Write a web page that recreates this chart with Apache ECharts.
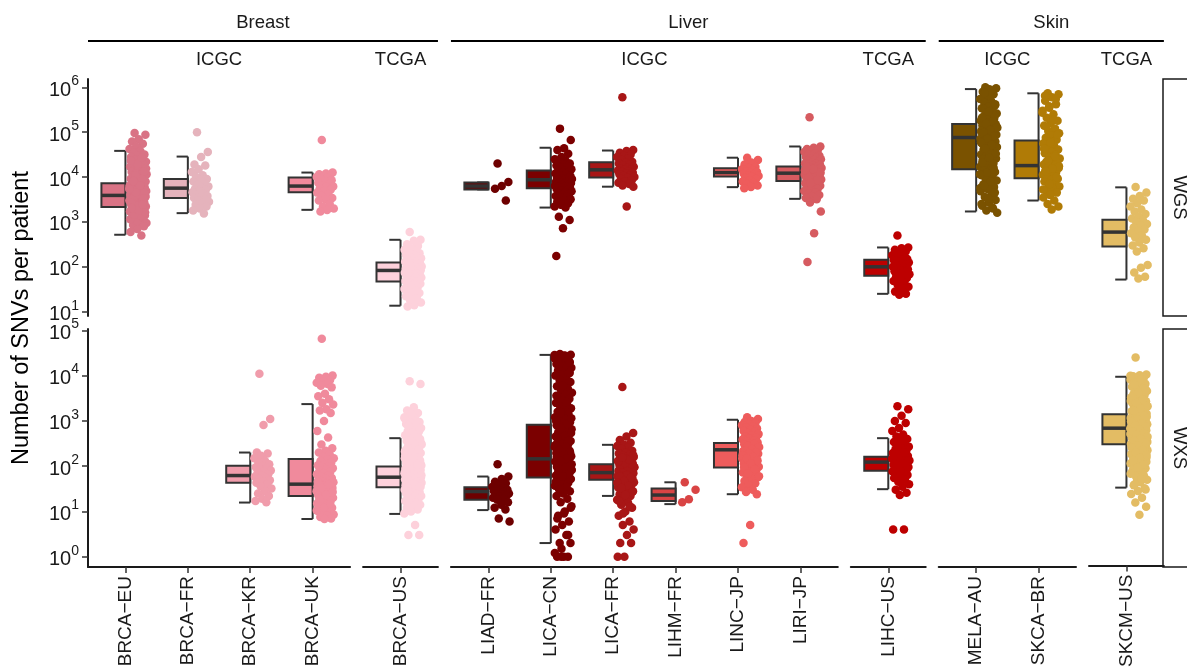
<!DOCTYPE html>
<html>
<head>
<meta charset="utf-8">
<script src="https://cdn.jsdelivr.net/npm/echarts@6/dist/echarts.min.js"></script>
<style>
  html, body { margin: 0; padding: 0; background: #fff; }
  #chart { width: 1187px; height: 670px; }
</style>
</head>
<body>
<div id="chart"></div>
<script>
// categories by panel
var breastICGC = ['BRCA−EU', 'BRCA−FR', 'BRCA−KR', 'BRCA−UK'];
var breastTCGA = ['BRCA−US'];
var liverICGC = ['LIAD−FR', 'LICA−CN', 'LICA−FR', 'LIHM−FR', 'LINC−JP', 'LIRI−JP'];
var liverTCGA = ['LIHC−US'];
var skinICGC = ['MELA−AU', 'SKCA−BR'];
var skinTCGA = ['SKCM−US'];

var rowNames = ['WGS', 'WXS'];

// box stats [min, q1, median, q3, max] in category order (15), null = no data
var wgsBoxStats = [
  [518, 2140, 3900, 7300, 38300],
  [1570, 3400, 5660, 9000, 28600],
  null,
  [1860, 4600, 6300, 9760, 12600],
  [13.6, 47, 83, 125, 400],
  [5300, 5300, 6300, 7600, 7600],
  [2090, 5660, 8700, 14000, 45000],
  [6100, 9760, 14500, 21500, 39000],
  null,
  [5960, 10300, 12600, 15800, 27000],
  [3270, 8200, 12200, 17100, 48000],
  [25, 63, 100, 144, 270],
  [1710, 15000, 76000, 153000, 913000],
  [3000, 9440, 18000, 65000, 735000],
  [52, 285, 594, 1120, 5900]
];
var wxsBoxStats = [
  null,
  null,
  [15.7, 43, 62, 102, 200],
  [6.8, 22, 40, 144, 2350],
  [8.8, 34, 57, 98, 415],
  [10.7, 18, 27.5, 34, 59],
  [2, 56, 145, 820, 28700],
  [22, 50, 72, 110, 296],
  [14.5, 17, 23, 32, 44],
  [24, 93, 230, 324, 1060],
  null,
  [31, 79, 123, 162, 415],
  null,
  null,
  [32, 295, 670, 1365, 9300]
];

// per-patient SNV counts, WGS
var wgs_BRCA_EU = [96000, 88000, 70000, 62000, 55000, 48000, 42000, 38000, 35000, 32000, 30000, 28000, 26000, 24000, 22000, 21000, 20000, 19000, 18000, 17000, 16000, 15000, 14500, 14000, 13000, 12500, 12000, 11500, 11000, 10500, 10000, 9600, 9200, 8800, 8400, 8000, 7700, 7400, 7100, 6800, 6500, 6300, 6100, 5900, 5700, 5500, 5300, 5100, 4900, 4700, 4500, 4300, 4150, 4000, 3850, 3700, 3550, 3400, 3300, 3200, 3100, 3000, 2900, 2800, 2700, 2600, 2500, 2400, 2300, 2200, 2100, 2000, 1900, 1800, 1700, 1600, 1500, 1400, 1300, 1200, 1100, 1000, 950, 900, 850, 800, 700, 600, 500, 3600, 3800, 4200, 2650, 2950, 5000, 6000, 7000, 3500, 4400, 2350, 2750, 9000, 11000, 15500, 1250, 1750, 3350, 1050, 1150, 1350, 1450, 1650, 1850, 2050, 2450, 4600, 5400, 6600, 8200, 13500, 19500, 23000, 27000];
var wgs_BRCA_FR = [100000, 36000, 28000, 19000, 18000, 15000, 13000, 11000, 10000, 9000, 8500, 8000, 7200, 6800, 6200, 5800, 5500, 5200, 4900, 4600, 4300, 4000, 3800, 3600, 3400, 3200, 3000, 2800, 2600, 2400, 2200, 2000, 1800, 1550];
var wgs_BRCA_UK = [67000, 12600, 12000, 11500, 11000, 10500, 10000, 9500, 9000, 8500, 8000, 7500, 7000, 6500, 6200, 6000, 5600, 5200, 4800, 4500, 4200, 3800, 3400, 3200, 3000, 2500, 2200, 2000, 1850, 1700];
var wgs_BRCA_US = [600, 400, 380, 320, 290, 260, 240, 220, 210, 200, 190, 180, 170, 160, 155, 150, 145, 140, 135, 130, 125, 120, 118, 115, 112, 110, 106, 102, 100, 97, 95, 92, 90, 88, 86, 84, 82, 80, 78, 76, 74, 72, 70, 68, 66, 64, 62, 60, 58, 56, 54, 52, 50, 48, 46, 44, 42, 40, 38, 36, 34, 32, 30, 28, 26, 24, 22, 20, 18, 16, 14, 13];
var wgs_LIAD_FR = [20000, 7800, 6300, 5500, 3000];
var wgs_LICA_CN = [120000, 67000, 44000, 40000, 33000, 28000, 25000, 23000, 21000, 20000, 19000, 18000, 17000, 16000, 15000, 14000, 13500, 13000, 12500, 12000, 11500, 11000, 10500, 10000, 9800, 9500, 9200, 9000, 8800, 8600, 8400, 8200, 8000, 7800, 7600, 7400, 7200, 7000, 6800, 6600, 6400, 6200, 6000, 5800, 5600, 5400, 5200, 5000, 4800, 4600, 4400, 4200, 4000, 3800, 3600, 3400, 3200, 3000, 2800, 2600, 2400, 2200, 2100, 1310, 1100, 720, 174];
var wgs_LICA_FR = [600000, 40000, 38000, 35000, 32000, 30000, 28000, 26000, 24000, 22000, 21000, 20000, 19000, 18000, 17000, 16000, 15500, 15000, 14500, 14000, 13500, 13000, 12500, 12000, 11500, 11000, 10500, 10000, 9500, 9000, 8500, 8000, 7500, 7000, 6500, 6100, 2200];
var wgs_LINC_JP = [27000, 24000, 21000, 19000, 17000, 16000, 15000, 14000, 13500, 13000, 12500, 12000, 11500, 11000, 10500, 10000, 9500, 9000, 8500, 8000, 7500, 7000, 6500, 6000, 5600];
var wgs_LIRI_JP = [214000, 48000, 45000, 42000, 40000, 38000, 36000, 34000, 32000, 30000, 29000, 28000, 27000, 26000, 25000, 24000, 23000, 22000, 21000, 20000, 19500, 19000, 18500, 18000, 17500, 17000, 16500, 16000, 15500, 15000, 14500, 14000, 13500, 13000, 12800, 12500, 12200, 12000, 11800, 11500, 11200, 11000, 10700, 10400, 10000, 9700, 9400, 9100, 8800, 8500, 8200, 7900, 7600, 7300, 7000, 6700, 6400, 6100, 5800, 5500, 5200, 4900, 4600, 4300, 4000, 3700, 3400, 3200, 2700, 1700, 560, 128, 13200, 11300, 14200, 10200, 9900, 12400, 15200, 16800, 8600, 7400];
var wgs_LIHC_US = [500, 270, 260, 240, 220, 200, 180, 170, 160, 150, 145, 140, 135, 130, 125, 120, 115, 110, 105, 100, 96, 92, 88, 84, 80, 76, 72, 68, 64, 60, 56, 52, 48, 44, 40, 36, 32, 28, 25, 24];
var wgs_MELA_AU = [1000000, 950000, 900000, 800000, 700000, 600000, 550000, 500000, 450000, 400000, 370000, 340000, 310000, 280000, 260000, 240000, 220000, 200000, 190000, 180000, 170000, 160000, 150000, 145000, 140000, 135000, 130000, 125000, 120000, 115000, 110000, 105000, 100000, 96000, 92000, 88000, 84000, 80000, 77000, 74000, 71000, 68000, 65000, 62000, 59000, 56000, 53000, 50000, 47000, 44000, 41000, 38000, 35000, 32000, 30000, 28000, 26000, 24000, 22000, 20000, 18500, 17000, 15500, 14000, 13000, 12000, 11000, 10000, 9200, 8400, 7600, 6800, 6000, 5400, 4800, 4200, 3600, 3100, 2700, 2300, 2000, 1800, 1600, 650000, 330000, 230000, 165000, 108000, 86000, 66000, 46000, 36000, 25000, 16000, 9600, 5700, 850000, 750000, 420000, 290000, 210000, 175000, 155000, 128000, 112000, 98000, 82000, 72000, 60000, 52000, 43000, 33000, 27000, 21000, 14500, 12500, 11500, 8000, 6400, 4500, 3300, 2500, 2100];
var wgs_SKCA_BR = [740000, 700000, 600000, 500000, 420000, 350000, 300000, 250000, 210000, 180000, 160000, 140000, 120000, 105000, 95000, 85000, 75000, 68000, 62000, 56000, 50000, 45000, 41000, 37000, 34000, 31000, 28000, 26000, 24000, 22000, 21000, 20000, 19000, 18000, 17000, 16000, 15000, 14000, 13000, 12000, 11200, 10500, 9800, 9200, 8600, 8000, 7400, 6800, 6200, 5600, 5000, 4500, 4000, 3500, 3000, 2500, 2200, 1900, 650000, 550000, 380000, 270000, 190000, 130000, 88000, 59000, 43000, 29000, 23000, 17500, 15500, 13500, 10000, 7000, 5300];
var wgs_SKCM_US = [6000, 4500, 3800, 3300, 3000, 2600, 2200, 1900, 1700, 1500, 1300, 1200, 1100, 1000, 900, 820, 750, 680, 620, 560, 500, 450, 400, 350, 300, 260, 220, 110, 95, 75, 60, 55];

// per-patient SNV counts, WXS
var wxs_BRCA_KR = [11000, 1100, 810, 200, 190, 170, 150, 130, 120, 110, 100, 95, 90, 85, 80, 75, 70, 66, 62, 58, 55, 52, 49, 46, 43, 40, 36, 32, 28, 25, 22, 19, 17, 16];
var wxs_BRCA_UK = [65000, 10000, 9500, 9000, 8000, 7500, 7000, 6500, 6000, 5500, 4000, 3500, 3000, 2500, 2300, 1800, 1700, 1500, 1000, 600, 430, 300, 250, 220, 200, 180, 160, 150, 140, 130, 120, 110, 105, 100, 95, 90, 85, 80, 75, 70, 66, 62, 58, 55, 52, 50, 48, 46, 44, 42, 40, 38, 37, 36, 35, 34, 33, 32, 31, 30, 29, 28, 27, 26, 25, 24, 23, 22, 21, 20, 19, 18, 17, 16, 15, 14, 13, 12, 11, 10, 9.5, 9, 8.5, 8, 7.5, 7, 6.8, 45, 39, 33, 27, 23, 19, 15, 12, 10.5];
var wxs_BRCA_US = [7500, 6500, 2000, 1700, 1500, 1300, 1200, 1100, 1000, 950, 900, 850, 800, 750, 700, 650, 600, 560, 520, 480, 450, 420, 400, 380, 360, 340, 320, 300, 285, 270, 255, 240, 228, 216, 205, 195, 185, 175, 166, 158, 150, 143, 136, 130, 124, 118, 113, 108, 104, 100, 97, 94, 91, 88, 85, 82, 80, 78, 76, 74, 72, 70, 68, 66, 64, 62, 60, 58, 57, 56, 55, 54, 53, 52, 51, 50, 49, 48, 47, 46, 45, 44, 43, 42, 41, 40, 39, 38, 37, 36, 35, 34, 33, 32, 31, 30, 29, 28, 27, 26, 25, 24, 23, 22, 21, 20, 19, 18, 17, 16, 15, 14, 13, 12, 11, 10, 9, 5, 3, 3, 65, 75, 85, 95, 110, 120, 140, 160, 180, 210, 250, 290, 350, 45, 55, 59, 61, 63, 67, 69, 71, 73, 77, 79, 81, 83, 87, 89, 92, 1400, 1150, 900, 780, 620, 540, 470, 430, 370, 330, 310, 260, 230, 200, 170, 155, 146, 133, 127, 115, 106];
var wxs_LIAD_FR = [110, 59, 52, 45, 42, 38, 35, 33, 31, 30, 29, 28, 27, 26, 25, 24, 23, 22, 21, 20, 19, 18, 16, 14, 12, 11, 7, 6];
var wxs_LICA_CN = [30000, 29000, 28000, 27000, 26000, 25000, 24000, 22000, 21000, 20000, 19000, 18000, 17000, 16000, 15000, 14000, 13000, 12000, 11000, 10000, 9000, 8000, 7200, 6500, 5800, 5200, 4700, 4200, 3800, 3400, 3100, 2800, 2500, 2300, 2100, 1900, 1750, 1600, 1450, 1300, 1200, 1100, 1000, 930, 860, 800, 750, 700, 650, 600, 560, 520, 480, 450, 420, 390, 360, 340, 320, 300, 280, 265, 250, 235, 220, 208, 196, 185, 175, 165, 156, 148, 140, 133, 126, 120, 114, 108, 102, 97, 92, 87, 82, 78, 74, 70, 66, 62, 58, 55, 52, 49, 46, 43, 40, 37, 34, 31, 28, 25, 22, 19, 16, 13, 10, 8, 6, 5, 4, 3, 2, 2, 1, 1, 1, 1, 28500, 27500, 23000, 19500, 15500, 1000, 850, 700, 540, 470, 410, 370, 310, 290, 270, 230, 200, 180, 160, 150, 130, 110, 90, 75, 68, 60, 45, 35, 30, 12, 9, 7, 3, 1.5, 1.2, 25500, 17500, 11500, 6000, 3600, 2600, 1550, 1150];
var wxs_LICA_FR = [5600, 540, 450, 380, 330, 300, 280, 260, 240, 220, 200, 190, 180, 170, 160, 150, 145, 140, 135, 130, 125, 120, 115, 110, 106, 102, 98, 94, 90, 87, 84, 81, 78, 75, 72, 70, 68, 66, 64, 62, 60, 58, 56, 54, 52, 50, 48, 46, 44, 42, 40, 38, 36, 34, 32, 30, 28, 26, 24, 22, 20, 18, 16, 14, 12, 10, 8, 6, 5, 4, 3, 2, 2, 1, 1, 71, 73, 76, 79, 83, 88, 92, 96, 100, 108, 112, 118, 128, 138, 155, 175, 63, 59, 55, 47, 43, 37, 33, 27, 23, 17, 13, 9];
var wxs_LIHM_FR = [44, 30, 18.6, 16];
var wxs_LINC_JP = [1200, 1100, 1000, 950, 900, 850, 800, 760, 720, 680, 640, 600, 570, 540, 510, 480, 455, 430, 410, 390, 370, 350, 335, 320, 305, 290, 278, 266, 255, 245, 235, 225, 215, 205, 196, 188, 180, 172, 164, 156, 148, 140, 133, 126, 120, 114, 108, 102, 97, 92, 87, 82, 77, 72, 67, 62, 57, 52, 47, 42, 38, 34, 30, 27, 24, 5, 2, 310, 280, 260, 240, 220, 200, 190, 175, 160, 150, 135, 115, 95, 85, 70, 60];
var wxs_LIHC_US = [2100, 1800, 1300, 1000, 900, 700, 600, 500, 450, 400, 370, 340, 310, 290, 270, 250, 235, 220, 205, 195, 185, 175, 168, 160, 153, 146, 140, 134, 128, 123, 118, 113, 108, 104, 100, 96, 92, 88, 84, 80, 76, 72, 68, 64, 60, 55, 50, 45, 40, 35, 30, 26, 23, 4, 4, 150, 130, 110, 90, 125, 135, 145, 115, 98, 86, 78, 170, 200, 240];
var wxs_SKCM_US = [25000, 10500, 10000, 9500, 9000, 8500, 8000, 7500, 7000, 6500, 6000, 5600, 5200, 4800, 4500, 4200, 3900, 3600, 3400, 3200, 3000, 2800, 2650, 2500, 2380, 2260, 2150, 2050, 1950, 1850, 1760, 1680, 1600, 1530, 1460, 1400, 1340, 1280, 1230, 1180, 1130, 1080, 1040, 1000, 960, 920, 880, 850, 820, 790, 760, 730, 700, 675, 650, 625, 600, 578, 556, 535, 515, 495, 476, 458, 440, 423, 407, 391, 376, 362, 348, 335, 322, 310, 298, 286, 275, 264, 254, 244, 234, 225, 216, 207, 198, 190, 182, 174, 166, 158, 150, 142, 134, 126, 118, 110, 102, 94, 86, 78, 70, 62, 55, 48, 42, 36, 31, 27, 23, 19, 15, 12, 8, 690, 710, 640, 660, 590, 610, 560, 540, 800, 900, 1100, 1200, 1500, 1700, 2000, 2300, 2700, 3100, 3700, 4400, 500, 450, 400, 360, 330, 300, 270, 240, 210, 180, 160, 140, 120, 100, 80, 60, 45, 9800, 8200, 6200, 5000, 4000, 3300, 2900, 2450, 2100, 1800, 1650, 1250, 1060, 940, 860, 770, 720, 630, 570, 520, 480, 430, 390, 350, 315, 280, 250, 220, 195, 170, 145, 130, 105, 90, 65, 50, 38, 29];

var wgsPoints = [wgs_BRCA_EU, wgs_BRCA_FR, null, wgs_BRCA_UK, wgs_BRCA_US, wgs_LIAD_FR, wgs_LICA_CN, wgs_LICA_FR, null, wgs_LINC_JP, wgs_LIRI_JP, wgs_LIHC_US, wgs_MELA_AU, wgs_SKCA_BR, wgs_SKCM_US];
var wxsPoints = [null, null, wxs_BRCA_KR, wxs_BRCA_UK, wxs_BRCA_US, wxs_LIAD_FR, wxs_LICA_CN, wxs_LICA_FR, wxs_LIHM_FR, wxs_LINC_JP, null, wxs_LIHC_US, null, null, wxs_SKCM_US];

// colours in category order
var palette = ['#d97385', '#e5b3bc', '#f09cab', '#f08a9c', '#fdd1db',
  '#6e0000', '#7b0000', '#a81616', '#d94444', '#ee5c5c', '#d65b60', '#bd0000',
  '#7a5200', '#b07b06', '#e3bc64'];

var panels = [
  { cats: breastICGC, cancer: 'Breast', src: 'ICGC' },
  { cats: breastTCGA, cancer: 'Breast', src: 'TCGA' },
  { cats: liverICGC, cancer: 'Liver', src: 'ICGC' },
  { cats: liverTCGA, cancer: 'Liver', src: 'TCGA' },
  { cats: skinICGC, cancer: 'Skin', src: 'ICGC' },
  { cats: skinTCGA, cancer: 'Skin', src: 'TCGA' }
];

var FONT = '"Liberation Sans", Arial, Helvetica, sans-serif';
var UNIT = 62.4, GAP = 13, LEFT0 = 88;
var rows = [
  { top: 79, height: 237, min: Math.pow(10, 0.904), max: Math.pow(10, 6.185), ticks: [10, 100, 1000, 1e4, 1e5, 1e6], box: wgsBoxStats, pts: wgsPoints },
  { top: 329, height: 238, min: Math.pow(10, -0.228), max: Math.pow(10, 5.03), ticks: [1, 10, 100, 1000, 1e4, 1e5], box: wxsBoxStats, pts: wxsPoints }
];

// horizontal jitter, right of the tick
function jit(k) {
  return 0.06 + 0.28 * ((k * 0.6180339887 + 0.31) % 1);
}

var grids = [], xAxes = [], yAxes = [], series = [], graphics = [];
var lefts = [];
var x = LEFT0;
panels.forEach(function (p) {
  var w = (p.cats.length + 0.2) * UNIT;
  lefts.push([x, w]);
  x += w + GAP;
});

var catOffset = [];
var off = 0;
panels.forEach(function (p) { catOffset.push(off); off += p.cats.length; });

rows.forEach(function (row, r) {
  panels.forEach(function (p, pi) {
    var gi = grids.length;
    var n = p.cats.length;
    var ticksX = p.cats.map(function (c, i) { return i; });
    grids.push({ left: lefts[pi][0], width: lefts[pi][1], top: row.top, height: row.height });
    xAxes.push({
      type: 'value', gridIndex: gi, min: -0.6, max: n - 0.4,
      show: r === 1,
      splitLine: { show: false },
      axisLine: { show: true, onZero: false, lineStyle: { color: '#1a1a1a', width: 2 } },
      axisTick: { show: true, customValues: ticksX, length: 6, lineStyle: { color: '#333', width: 1.5 } },
      axisLabel: {
        customValues: ticksX, rotate: 90, margin: 9,
        fontFamily: FONT, fontSize: 19, color: '#1a1a1a',
        formatter: function (v) { return p.cats[Math.round(v)] || ''; }
      }
    });
    yAxes.push({
      type: 'log', logBase: 10, gridIndex: gi, min: row.min, max: row.max,
      show: pi === 0,
      splitLine: { show: false },
      axisLine: { show: true, onZero: false, lineStyle: { color: '#1a1a1a', width: 2 } },
      axisTick: { show: true, customValues: row.ticks, length: 6, lineStyle: { color: '#333', width: 1.5 } },
      axisLabel: {
        customValues: row.ticks, margin: 9, color: '#1a1a1a',
        formatter: function (v) {
          return '{b|10}{s|' + Math.round(Math.log10(v)) + '}';
        },
        rich: {
          b: { fontFamily: FONT, fontSize: 20, color: '#1a1a1a', padding: [6, 0, 0, 0], verticalAlign: 'bottom' },
          s: { fontFamily: FONT, fontSize: 14, color: '#1a1a1a', verticalAlign: 'top' }
        }
      }
    });

    // box plots (left half of each category)
    var boxData = [];
    p.cats.forEach(function (c, i) {
      var st = row.box[catOffset[pi] + i];
      if (st) boxData.push([i].concat(st));
    });
    var base = catOffset[pi];
    series.push({
      type: 'custom', xAxisIndex: gi, yAxisIndex: gi, z: 2,
      encode: { x: 0, y: [1, 2, 3, 4, 5] },
      data: boxData,
      renderItem: function (params, api) {
        var i = api.value(0);
        var pMax = api.coord([i, api.value(5)]);
        var pQ3 = api.coord([i, api.value(4)]);
        var pMd = api.coord([i, api.value(3)]);
        var pQ1 = api.coord([i, api.value(2)]);
        var pMin = api.coord([i, api.value(1)]);
        var xl = api.coord([i - 0.385, api.value(3)])[0];
        var xc = api.coord([i - 0.18, api.value(3)])[0];
        var xr = pMd[0];
        var ln = { stroke: '#333', lineWidth: 2 };
        return {
          type: 'group',
          children: [
            { type: 'line', shape: { x1: xr, y1: pMax[1], x2: xr, y2: pMin[1] }, style: ln },
            { type: 'line', shape: { x1: xc, y1: pMax[1], x2: xr, y2: pMax[1] }, style: ln },
            { type: 'line', shape: { x1: xc, y1: pMin[1], x2: xr, y2: pMin[1] }, style: ln },
            { type: 'rect', shape: { x: xl, y: pQ3[1], width: xr - xl, height: pQ1[1] - pQ3[1] },
              style: { fill: palette[base + i], stroke: '#333', lineWidth: 2 } },
            { type: 'line', shape: { x1: xl, y1: pMd[1], x2: xr, y2: pMd[1] }, style: { stroke: '#333', lineWidth: 3.5 } }
          ]
        };
      }
    });

    // jittered points
    p.cats.forEach(function (c, i) {
      var vals = row.pts[base + i];
      if (!vals) return;
      series.push({
        type: 'scatter', xAxisIndex: gi, yAxisIndex: gi, z: 3,
        symbolSize: 8.5,
        itemStyle: { color: palette[base + i], opacity: 1 },
        data: vals.map(function (v, k) { return [i + jit(k), v]; })
      });
    });
  });
});

// facet strips on top
var groups = [['Breast', 0, 1], ['Liver', 2, 3], ['Skin', 4, 5]];
groups.forEach(function (g) {
  var x1 = lefts[g[1]][0], x2 = lefts[g[2]][0] + lefts[g[2]][1];
  graphics.push({ type: 'text', x: (x1 + x2) / 2, y: 23,
    style: { text: g[0], font: '18.5px ' + FONT, fill: '#1a1a1a', align: 'center', verticalAlign: 'middle' } });
  graphics.push({ type: 'line', shape: { x1: x1, y1: 41, x2: x2, y2: 41 }, style: { stroke: '#000', lineWidth: 2 } });
});
panels.forEach(function (p, pi) {
  graphics.push({ type: 'text', x: lefts[pi][0] + lefts[pi][1] / 2, y: 60,
    style: { text: p.src, font: '18.5px ' + FONT, fill: '#1a1a1a', align: 'center', verticalAlign: 'middle' } });
});
// facet strips on right
rows.forEach(function (row, r) {
  graphics.push({ type: 'rect', shape: { x: 1163, y: row.top, width: 40, height: row.height },
    style: { fill: '#fff', stroke: '#1a1a1a', lineWidth: 1.5 } });
  graphics.push({ type: 'text', x: 1179, y: row.top + row.height / 2, rotation: -Math.PI / 2,
    style: { text: rowNames[r], font: '18.5px ' + FONT, fill: '#1a1a1a', align: 'center', verticalAlign: 'middle' } });
});
// y axis title
graphics.push({ type: 'text', x: 22, y: 318, rotation: Math.PI / 2,
  style: { text: 'Number of SNVs per patient', font: '23.5px ' + FONT, fill: '#000', align: 'center', verticalAlign: 'middle' } });

var chart = echarts.init(document.getElementById('chart'), null, { renderer: 'canvas' });
chart.setOption({
  animation: false,
  backgroundColor: '#fff',
  grid: grids,
  xAxis: xAxes,
  yAxis: yAxes,
  series: series,
  graphic: graphics
});
</script>
</body>
</html>
